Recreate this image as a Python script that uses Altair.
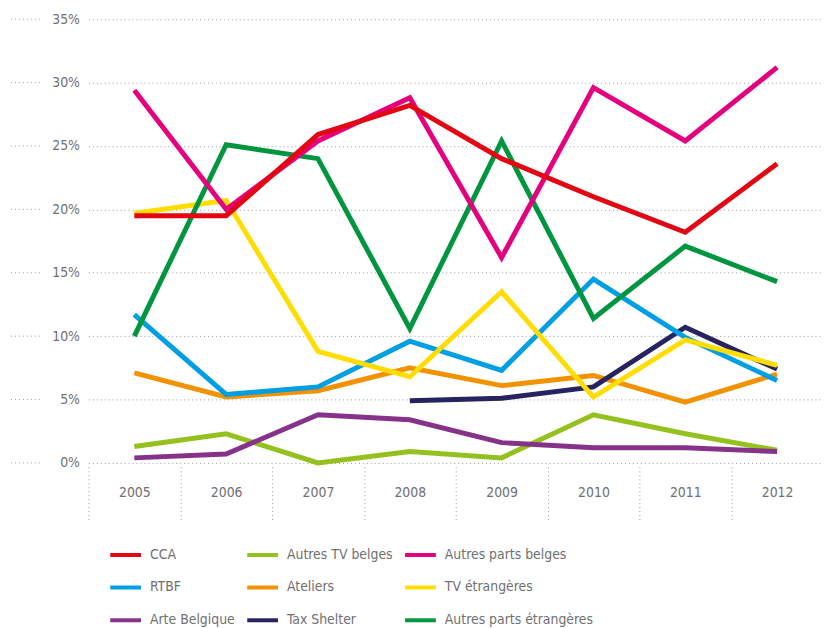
import altair as alt
import pandas as pd

years = ["2005", "2006", "2007", "2008", "2009", "2010", "2011", "2012"]
# legend order (filled column by column)
series = ["CCA", "RTBF", "Arte Belgique",
          "Autres TV belges", "Ateliers", "Tax Shelter",
          "Autres parts belges", "TV étrangères", "Autres parts étrangères"]
colors = ["#e30613", "#009fe3", "#873289",
          "#95c11f", "#f39200", "#27235f",
          "#e5007e", "#ffdd00", "#009640"]

cca = [19.5, 19.5, 25.9, 28.2, 24.0, 21.0, 18.2, 23.6]
autres_tv_belges = [1.3, 2.3, 0.0, 0.9, 0.4, 3.8, 2.3, 1.0]
autres_parts_belges = [29.4, 20.0, 25.4, 28.8, 16.2, 29.6, 25.4, 31.2]
rtbf = [11.7, 5.4, 6.0, 9.6, 7.3, 14.5, 9.9, 6.5]
ateliers = [7.1, 5.2, 5.7, 7.5, 6.1, 6.9, 4.8, 7.0]
tv_etrangeres = [19.7, 20.7, 8.8, 6.8, 13.5, 5.2, 9.7, 7.7]
arte = [0.4, 0.7, 3.8, 3.4, 1.6, 1.2, 1.2, 0.9]
tax_shelter = [None, None, None, 4.9, 5.1, 6.0, 10.7, 7.4]
autres_parts_etr = [10.0, 25.1, 24.0, 10.6, 25.4, 11.4, 17.1, 14.3]

draw_order = [
    ("Autres TV belges", autres_tv_belges),
    ("Arte Belgique", arte),
    ("Ateliers", ateliers),
    ("Tax Shelter", tax_shelter),
    ("RTBF", rtbf),
    ("TV étrangères", tv_etrangeres),
    ("Autres parts étrangères", autres_parts_etr),
    ("Autres parts belges", autres_parts_belges),
    ("CCA", cca),
]

rows = []
for i, (name, vals) in enumerate(draw_order):
    for y, v in zip(years, vals):
        if v is not None:
            rows.append({"annee": y, "serie": name, "valeur": v / 100, "ordre": i})
df = pd.DataFrame(rows)

grid_ticks = [0, 0.05, 0.10, 0.15, 0.20, 0.25, 0.30, 0.35]
grid_df = pd.DataFrame({"t": grid_ticks})

FONT = "DejaVu Sans Condensed, Liberation Sans Narrow, Roboto, sans-serif"
GREY = "#707070"

yscale = alt.Scale(domain=[0, 0.35])

lines = alt.Chart(df).mark_line(strokeWidth=5, strokeJoin="miter").encode(
    x=alt.X("annee:N", sort=years, title=None,
            scale=alt.Scale(paddingInner=0, paddingOuter=0),
            axis=alt.Axis(orient="bottom", domain=False, grid=False,
                          ticks=True, tickBand="extent", tickSize=54,
                          tickColor="#9a9a9a", tickDash=[1, 3], tickWidth=1,
                          labelPadding=-35, labelAngle=0, offset=4,
                          labelFont=FONT, labelFontSize=14, labelColor=GREY)),
    y=alt.Y("valeur:Q", scale=yscale, title=None,
            axis=alt.Axis(values=grid_ticks, format=".0%", domain=False,
                          ticks=False, labelPadding=9, grid=True,
                          gridColor="#9a9a9a", gridDash=[1, 3], gridWidth=1,
                          labelFont=FONT, labelFontSize=14, labelColor=GREY)),
    color=alt.Color("serie:N", title=None, sort=series,
                    scale=alt.Scale(domain=series, range=colors),
                    legend=alt.Legend(orient="none", legendX=20, legendY=522,
                                      columns=3, symbolType="stroke",
                                      symbolSize=961, symbolStrokeWidth=4,
                                      labelFont=FONT, labelFontSize=14,
                                      labelColor=GREY, labelOffset=7,
                                      columnPadding=4, rowPadding=7,
                                      labelLimit=400)),
    order=alt.Order("ordre:Q"),
    detail="serie:N",
)

left_bits = alt.Chart(grid_df).mark_rule(color="#9a9a9a", strokeDash=[1, 3], strokeWidth=1).encode(
    y=alt.Y("t:Q", scale=yscale),
    x=alt.value(-82),
    x2=alt.value(-47),
)

chart = alt.layer(lines, left_bits).properties(
    width=740, height=447,
    autosize=alt.AutoSizeParams(type="none"),
    padding={"left": 81, "top": 9, "right": 0, "bottom": 164},
).configure_view(stroke=None)

chart.save("out.html", embed_options={"renderer": "svg", "actions": False})
